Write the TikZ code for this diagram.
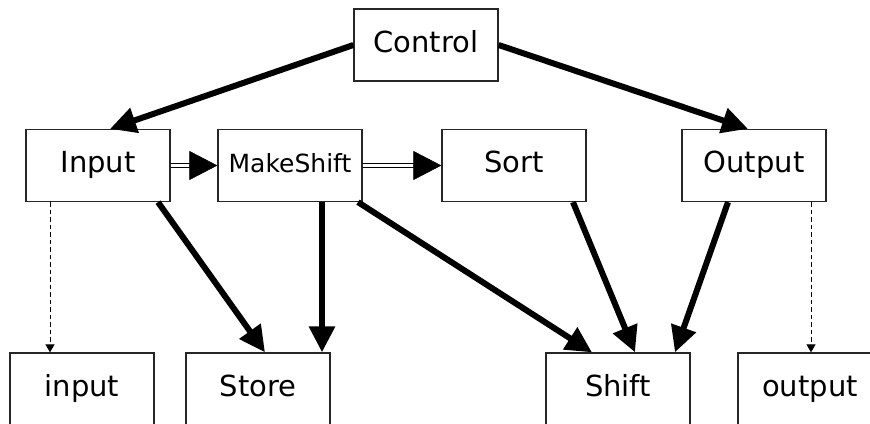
\documentclass[tikz,border=0pt]{standalone}
\usepackage{fontspec}
\setmainfont{DejaVu Sans}
\usetikzlibrary{arrows.meta}
\tikzset{
  box/.style={draw=black!85, line width=1.3pt, minimum width=144pt, minimum height=72pt, inner sep=0pt, text height=0.73em+7pt, text depth=0pt, font=\fontsize{29}{32}\selectfont},
  smallbox/.style={box, font=\fontsize{25}{30}\selectfont},
  thick arrow/.style={line width=6pt, -{Triangle[length=26pt,width=25pt]}},
  dbl/.style={double, double distance=2.4pt, line width=1.6pt},
  dbltip/.style={line width=0.5pt, -{Triangle[length=28pt,width=29pt]}},
  dsh/.style={line width=1pt, dash pattern=on 4.5pt off 3pt, -{Triangle[length=8pt,width=9pt]}}
}
\begin{document}
\begin{tikzpicture}[x=1pt,y=-1pt]
\clip (0,0) rectangle (870,423);
\fill[white] (0,0) rectangle (870,423);
\node[box] (ctl) at (426,45) {Control};
\node[box] (inp) at (98,165.5) {Input};
\node[smallbox] (ms) at (290,165.5) {MakeShift};
\node[box] (srt) at (514,165.5) {Sort};
\node[box] (out) at (754,165.5) {Output};
\node[box] (inl) at (82,389) {input};
\node[box] (sto) at (258,389) {Store};
\node[box] (sh) at (618,389) {Shift};
\node[box] (outl) at (810,389) {output};
% thick arrows
\draw[thick arrow] (ctl.west) -- ([xshift=12pt]inp.north);
\draw[thick arrow] (ctl.east) -- ([xshift=-6pt]out.north);
\draw[thick arrow] ([xshift=60pt]inp.south) -- ([xshift=7pt]sto.north);
\draw[thick arrow] ([xshift=32pt]ms.south) -- ([xshift=64pt]sto.north);
\draw[thick arrow] ([xshift=68pt]ms.south) -- ([xshift=-26pt]sh.north);
\draw[thick arrow] ([xshift=59pt]srt.south) -- ([xshift=17pt]sh.north);
\draw[thick arrow] ([xshift=-26pt]out.south) -- ([xshift=57pt]sh.north);
% double arrows
\coordinate (d1) at ([xshift=-27pt]ms.west);
\coordinate (d2) at ([xshift=-27pt]srt.west);
\draw[dbl] (inp.east) -- (d1);
\draw[dbltip] ([xshift=-1pt]d1) -- (ms.west);
\draw[dbl] (ms.east) -- (d2);
\draw[dbltip] ([xshift=-1pt]d2) -- (srt.west);
% dashed arrows
\draw[dsh] ([xshift=-48pt]inp.south) -- ([xshift=-32pt]inl.north);
\draw[dsh] ([xshift=57pt]out.south) -- ([xshift=1pt]outl.north);
\end{tikzpicture}
\end{document}
